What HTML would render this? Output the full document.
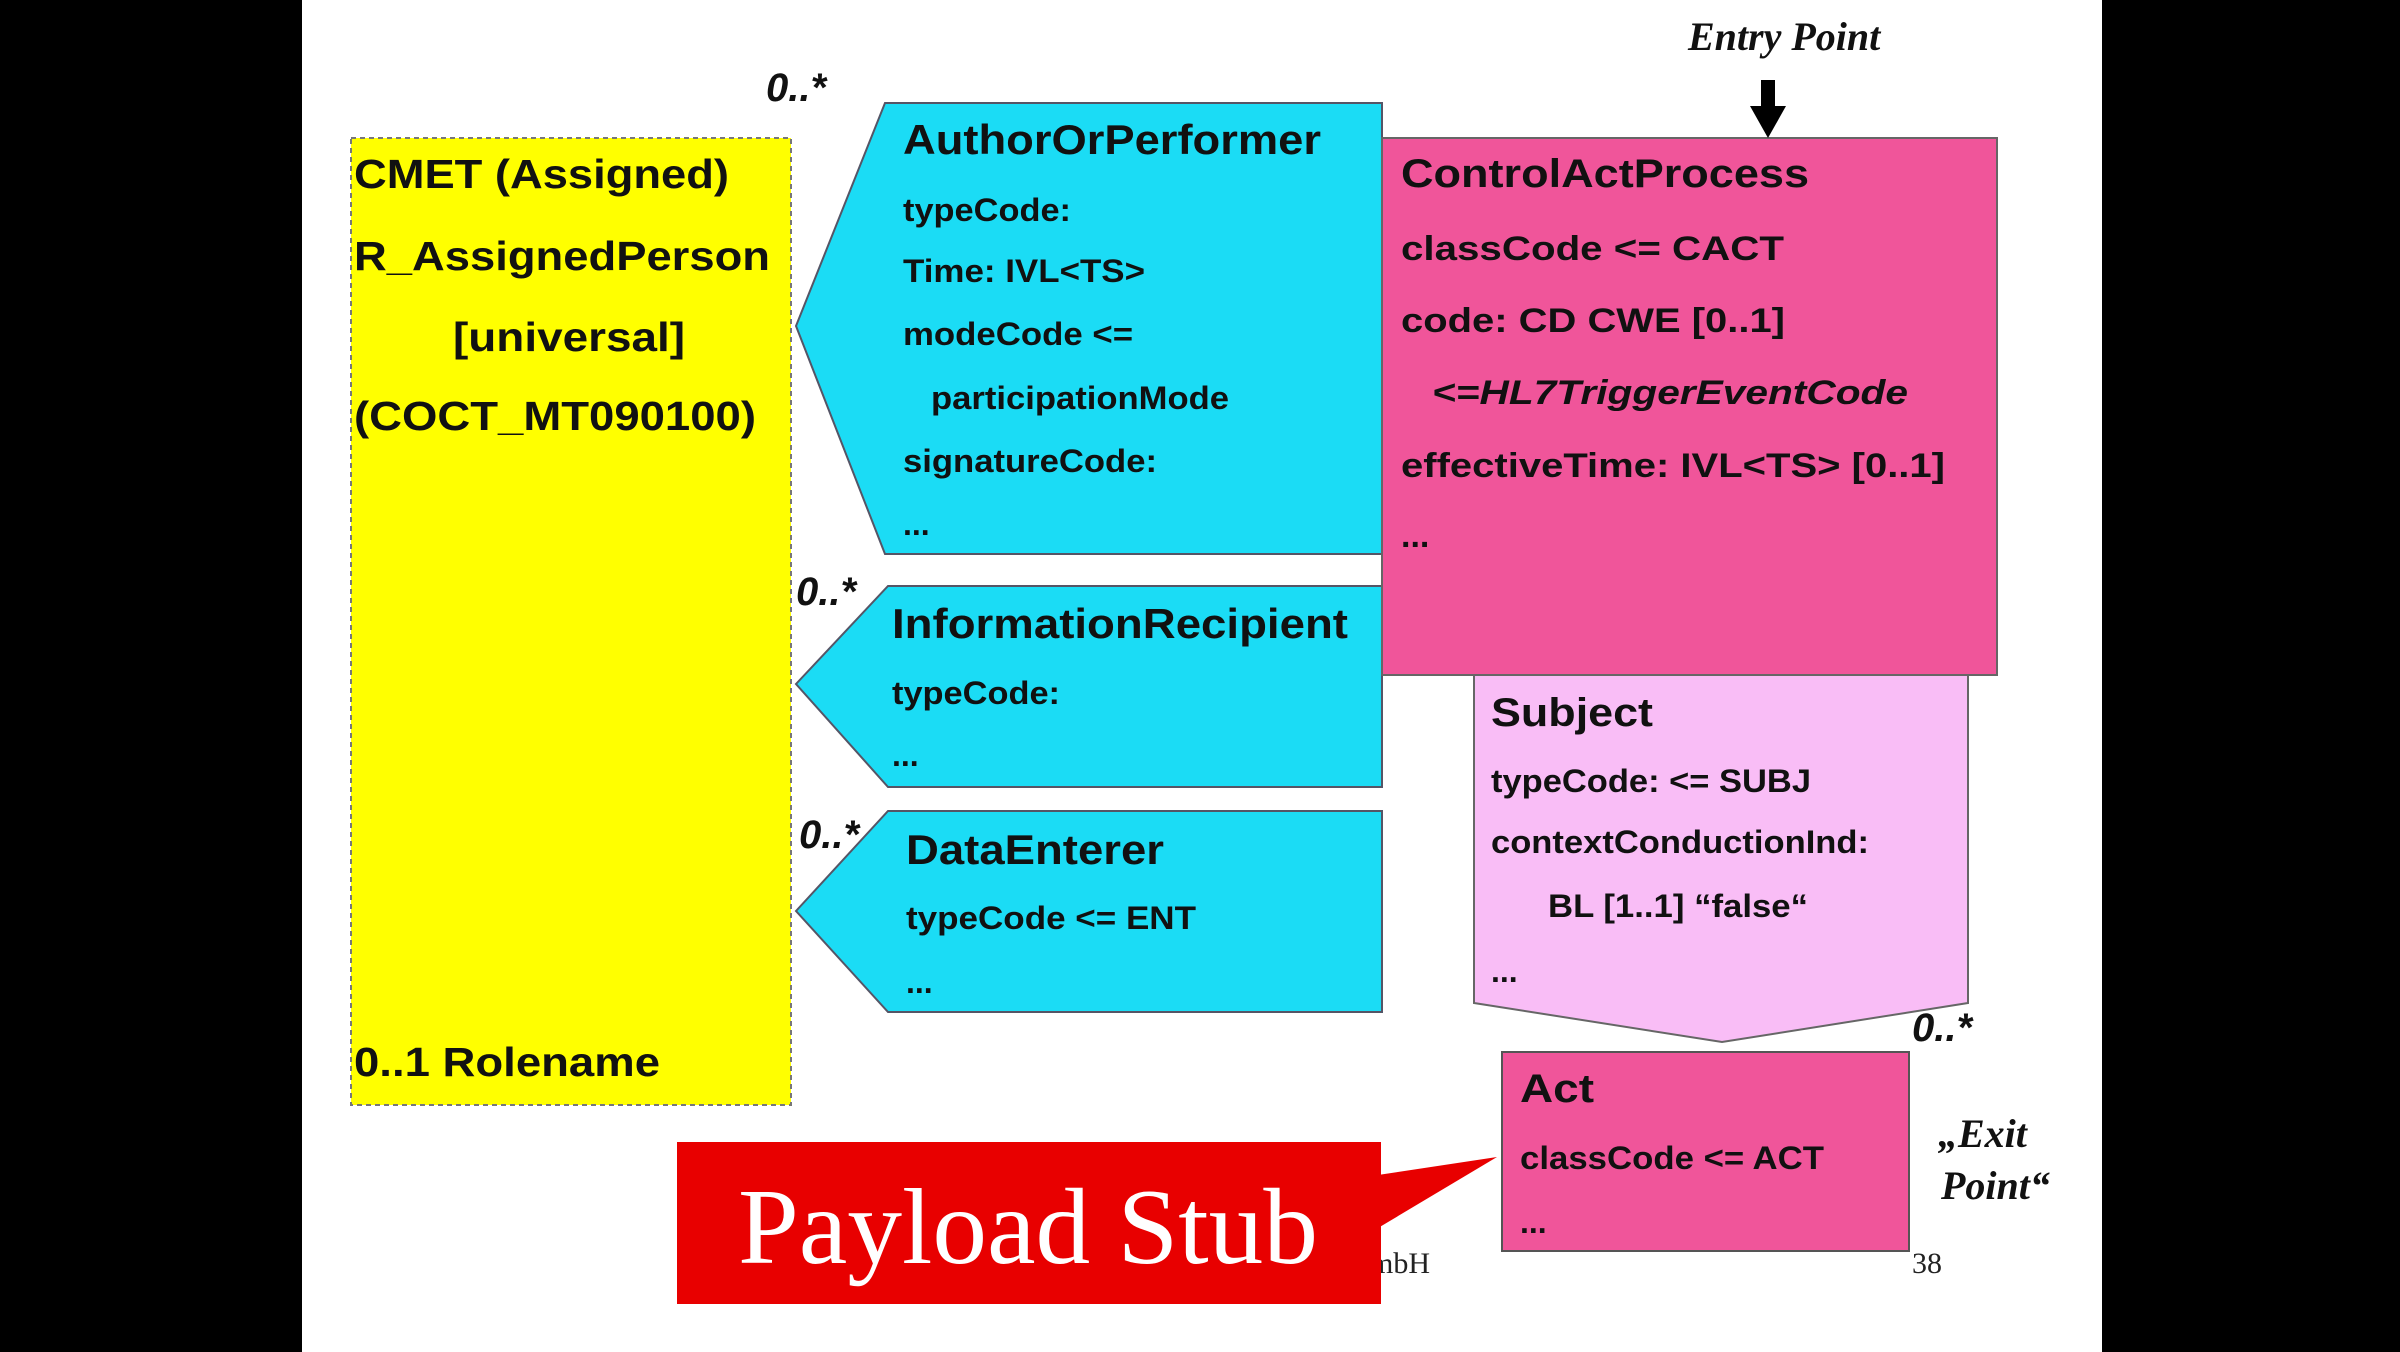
<!DOCTYPE html>
<html><head><meta charset="utf-8"><style>
html,body{margin:0;padding:0;background:#000;}
svg{display:block}
.b{font-family:"Liberation Sans",sans-serif;font-weight:bold;fill:#111}
</style></head><body>
<svg width="2400" height="1352" viewBox="0 0 2400 1352" xmlns="http://www.w3.org/2000/svg">
<rect x="0" y="0" width="2400" height="1352" fill="#000"/>
<rect x="302" y="0" width="1800" height="1352" fill="#fff"/>

<!-- yellow CMET -->
<rect x="351" y="138" width="440" height="967" fill="#ffff00" stroke="#777" stroke-width="2" stroke-dasharray="5,4"/>
<g class="b" font-size="41">
<text x="354" y="188" textLength="375" lengthAdjust="spacingAndGlyphs">CMET (Assigned)</text>
<text x="354" y="270" textLength="416" lengthAdjust="spacingAndGlyphs">R_AssignedPerson</text>
<text x="453" y="351" textLength="232" lengthAdjust="spacingAndGlyphs">[universal]</text>
<text x="354" y="430" textLength="402" lengthAdjust="spacingAndGlyphs">(COCT_MT090100)</text>
<text x="354" y="1076" textLength="306" lengthAdjust="spacingAndGlyphs">0..1 Rolename</text>
</g>

<!-- AuthorOrPerformer -->
<polygon points="796,326 885,103 1382,103 1382,554 885,554" fill="#1bdcf5" stroke="#556" stroke-width="2"/>
<g class="b">
<text x="903" y="154" font-size="42" textLength="418" lengthAdjust="spacingAndGlyphs">AuthorOrPerformer</text>
<g font-size="32">
<text x="903" y="221" textLength="168" lengthAdjust="spacingAndGlyphs">typeCode:</text>
<text x="903" y="282" textLength="242" lengthAdjust="spacingAndGlyphs">Time: IVL&lt;TS&gt;</text>
<text x="903" y="345" textLength="230" lengthAdjust="spacingAndGlyphs">modeCode &lt;=</text>
<text x="931" y="409" textLength="298" lengthAdjust="spacingAndGlyphs">participationMode</text>
<text x="903" y="472" textLength="254" lengthAdjust="spacingAndGlyphs">signatureCode:</text>
<text x="903" y="535">...</text>
</g></g>

<!-- InformationRecipient -->
<polygon points="796,684 888,586 1382,586 1382,787 888,787" fill="#1bdcf5" stroke="#556" stroke-width="2"/>
<g class="b">
<text x="892" y="638" font-size="42" textLength="456" lengthAdjust="spacingAndGlyphs">InformationRecipient</text>
<text x="892" y="704" font-size="32" textLength="168" lengthAdjust="spacingAndGlyphs">typeCode:</text>
<text x="892" y="766" font-size="32">...</text>
</g>

<!-- DataEnterer -->
<polygon points="796,911 888,811 1382,811 1382,1012 888,1012" fill="#1bdcf5" stroke="#556" stroke-width="2"/>
<g class="b">
<text x="906" y="864" font-size="42" textLength="258" lengthAdjust="spacingAndGlyphs">DataEnterer</text>
<text x="906" y="929" font-size="32" textLength="290" lengthAdjust="spacingAndGlyphs">typeCode &lt;= ENT</text>
<text x="906" y="993" font-size="32">...</text>
</g>

<!-- Subject -->
<polygon points="1474,675 1968,675 1968,1003 1722,1042 1474,1003" fill="#f9bdf6" stroke="#666" stroke-width="2"/>
<g class="b">
<text x="1491" y="726" font-size="40" textLength="162" lengthAdjust="spacingAndGlyphs">Subject</text>
<g font-size="32">
<text x="1491" y="792" textLength="320" lengthAdjust="spacingAndGlyphs">typeCode: &lt;= SUBJ</text>
<text x="1491" y="853" textLength="378" lengthAdjust="spacingAndGlyphs">contextConductionInd:</text>
<text x="1548" y="917" textLength="260" lengthAdjust="spacingAndGlyphs">BL [1..1] “false“</text>
<text x="1491" y="982">...</text>
</g></g>

<!-- ControlActProcess -->
<rect x="1382" y="138" width="615" height="537" fill="#f0559a" stroke="#666" stroke-width="2"/>
<g class="b">
<text x="1401" y="187" font-size="40" textLength="408" lengthAdjust="spacingAndGlyphs">ControlActProcess</text>
<g font-size="34">
<text x="1401" y="260" textLength="383" lengthAdjust="spacingAndGlyphs">classCode &lt;= CACT</text>
<text x="1401" y="332" textLength="384" lengthAdjust="spacingAndGlyphs">code: CD CWE [0..1]</text>
<text x="1432" y="404" font-style="italic" textLength="476" lengthAdjust="spacingAndGlyphs">&lt;=HL7TriggerEventCode</text>
<text x="1401" y="477" textLength="544" lengthAdjust="spacingAndGlyphs">effectiveTime: IVL&lt;TS&gt; [0..1]</text>
<text x="1401" y="547">...</text>
</g></g>

<!-- Act -->
<rect x="1502" y="1052" width="407" height="199" fill="#f0559a" stroke="#555" stroke-width="2"/>
<g class="b">
<text x="1520" y="1102" font-size="40" textLength="74" lengthAdjust="spacingAndGlyphs">Act</text>
<text x="1520" y="1169" font-size="32" textLength="304" lengthAdjust="spacingAndGlyphs">classCode &lt;= ACT</text>
<text x="1520" y="1233" font-size="32">...</text>
</g>

<!-- multiplicities -->
<g font-family="Liberation Sans,sans-serif" font-weight="bold" font-style="italic" font-size="40" fill="#111">
<text x="766" y="101">0..*</text>
<text x="796" y="605">0..*</text>
<text x="799" y="848">0..*</text>
<text x="1912" y="1041">0..*</text>
</g>

<!-- Entry point -->
<text x="1688" y="50" font-family="Liberation Serif,serif" font-weight="bold" font-style="italic" font-size="40" fill="#111">Entry Point</text>
<rect x="1761" y="80" width="14" height="28" fill="#000"/>
<polygon points="1750,106 1786,106 1768,138" fill="#000"/>

<!-- Exit point -->
<g font-family="Liberation Serif,serif" font-weight="bold" font-style="italic" font-size="40" fill="#111">
<text x="1938" y="1147">„Exit</text>
<text x="1941" y="1199">Point“</text>
</g>

<!-- footer -->
<g font-family="Liberation Serif,serif" font-size="30" fill="#222">
<text x="1370" y="1273">mbH</text>
<text x="1912" y="1273">38</text>
</g>

<!-- Payload Stub callout -->
<polygon points="1378,1175 1497,1157 1378,1228" fill="#e80000"/>
<rect x="677" y="1142" width="704" height="162" fill="#e80000"/>
<text x="738" y="1263" font-family="Liberation Serif,serif" font-size="108" fill="#fff" textLength="580" lengthAdjust="spacingAndGlyphs">Payload Stub</text>
</svg>
</body></html>
